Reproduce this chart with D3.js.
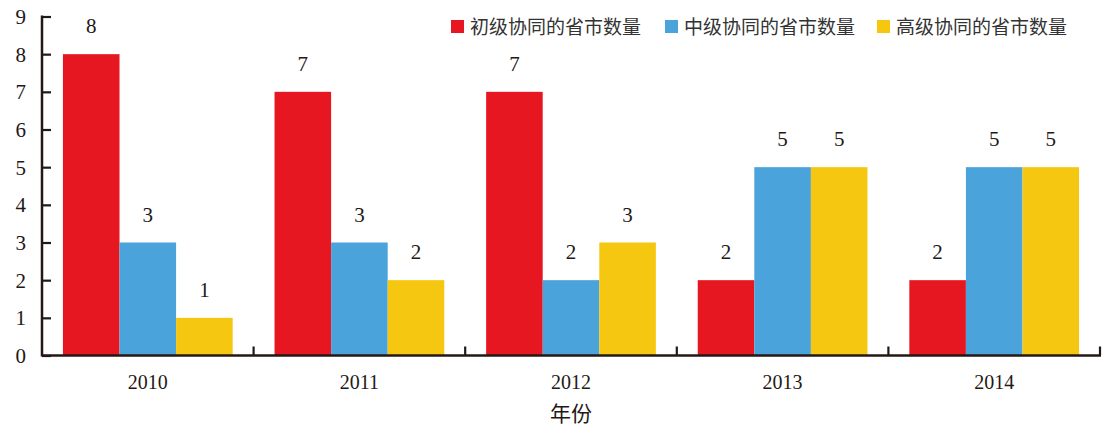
<!DOCTYPE html>
<html><head><meta charset="utf-8">
<script src="https://cdn.jsdelivr.net/npm/d3@7"></script>
<style>body{margin:0;background:#fff}</style>
</head><body><svg id="c" width="1114" height="431"></svg>
<script>
const years = ["2010","2011","2012","2013","2014"];
const seriesNames = ["初级协同的省市数量","中级协同的省市数量","高级协同的省市数量"];
const primary = [8,7,7,2,2];
const middle = [3,3,2,5,5];
const advanced = [1,2,3,5,5];
const yTicks = [0,1,2,3,4,5,6,7,8,9];
const colors = ["#E61720","#4AA3DB","#F5C710"];
const xTitle = "年份";

const values = [primary, middle, advanced];
const svg = d3.select("#c");
const ink = "#231815";
const serif = "'Liberation Serif','Times New Roman',serif";
const cjk = "'Noto Sans CJK SC','Noto Sans',sans-serif";
const L = 42, R = 1100, T = 16.5, B = 355.5;

const x = d3.scaleBand().domain(years).range([L, R]).paddingInner(0).paddingOuter(0);
const xs = d3.scaleBand().domain(d3.range(3)).range([0, x.bandwidth()]).paddingInner(0).paddingOuter(0.37);
const y = d3.scaleLinear().domain([0, 9]).range([B, T]);

// bars
values.forEach((vals, si) => {
  svg.append("g").selectAll("rect").data(vals).join("rect")
    .attr("x", (d, i) => x(years[i]) + xs(si))
    .attr("y", d => y(d))
    .attr("width", xs.bandwidth())
    .attr("height", d => y(0) - y(d))
    .attr("fill", colors[si]);
  svg.append("g").selectAll("text").data(vals).join("text")
    .attr("x", (d, i) => x(years[i]) + xs(si) + xs.bandwidth() / 2)
    .attr("y", d => y(d) - 21)
    .attr("text-anchor", "middle")
    .attr("font-family", serif).attr("font-size", 21).attr("fill", ink)
    .text(d => d);
});

// y axis
const yAxis = svg.append("g").attr("transform", `translate(${L},0)`)
  .call(d3.axisRight(y).tickValues(yTicks).tickSize(9).tickFormat(""));
yAxis.select(".domain").remove();
yAxis.selectAll("line").attr("stroke", ink).attr("stroke-width", 2.2);
svg.append("line").attr("x1", L).attr("x2", L).attr("y1", T - 1).attr("y2", B + 1)
  .attr("stroke", ink).attr("stroke-width", 2.5);
svg.append("g").selectAll("text").data(yTicks).join("text")
  .attr("x", 26).attr("y", d => y(d)).attr("dy", "0.35em")
  .attr("text-anchor", "end").attr("font-family", serif).attr("font-size", 21).attr("fill", ink)
  .text(d => d);

// x axis
const xBounds = years.map(yr => x(yr) + x.bandwidth());
svg.append("g").selectAll("line").data(xBounds).join("line")
  .attr("x1", d => d).attr("x2", d => d).attr("y1", B).attr("y2", B - 9)
  .attr("stroke", ink).attr("stroke-width", 2.2);
svg.append("line").attr("x1", L).attr("x2", R + 1).attr("y1", B).attr("y2", B)
  .attr("stroke", ink).attr("stroke-width", 2.5);
svg.append("g").selectAll("text").data(years).join("text")
  .attr("x", d => x(d) + x.bandwidth() / 2).attr("y", 389)
  .attr("text-anchor", "middle").attr("font-family", serif).attr("font-size", 20).attr("fill", ink)
  .text(d => d);
svg.append("text").attr("x", (L + R) / 2).attr("y", 421)
  .attr("text-anchor", "middle").attr("font-family", cjk).attr("font-size", 21).attr("fill", ink)
  .text(xTitle);

// legend
const legendX = [451, 665, 877];
const lg = svg.append("g").selectAll("g").data(seriesNames).join("g")
  .attr("transform", (d, i) => `translate(${legendX[i]},20)`);
lg.append("rect").attr("width", 13).attr("height", 13).attr("fill", (d, i) => colors[i]);
lg.append("text").attr("x", 19).attr("y", 7).attr("dy", "0.36em")
  .attr("font-family", cjk).attr("font-size", 19).attr("fill", "#333")
  .text(d => d);
</script></body></html>
